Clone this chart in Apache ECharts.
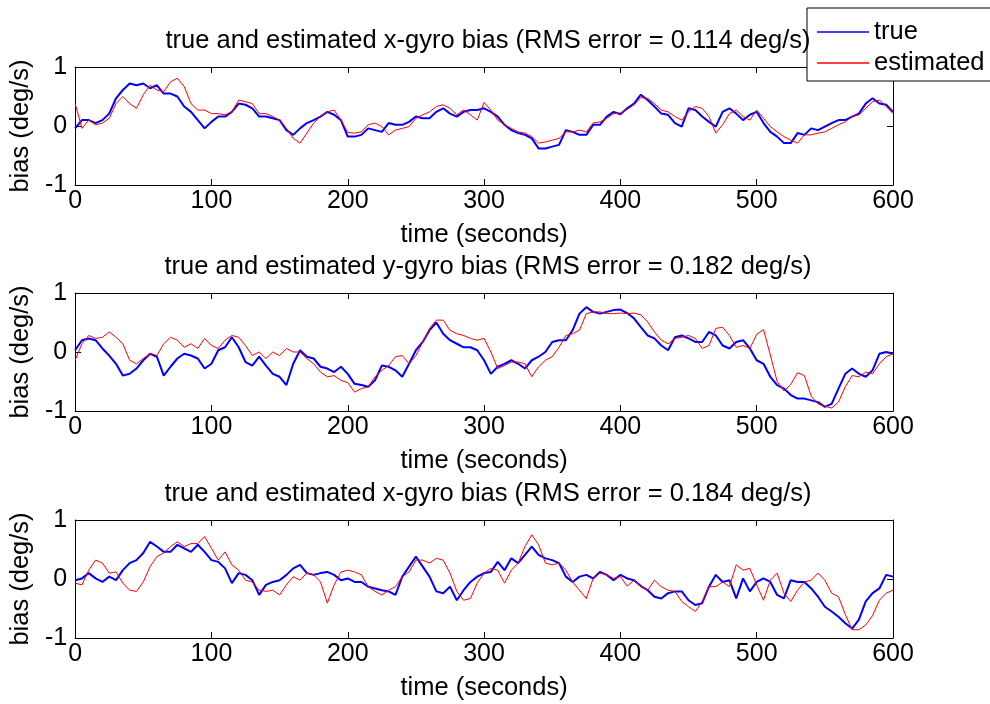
<!DOCTYPE html>
<html>
<head>
<meta charset="utf-8">
<title>gyro bias</title>
<script src="https://cdn.jsdelivr.net/npm/echarts@6/dist/echarts.min.js"></script>
<style>
    html, body { margin: 0; padding: 0; background: #fff; }
    #chart { width: 990px; height: 704px; }
</style>
</head>
<body>
<div id="chart"></div>
<script>
// sample times (seconds), one point every 5 s
var time = [];
for (var s = 0; s <= 600; s += 5) time.push(s);

var xTicks = ['0', '100', '200', '300', '400', '500', '600'];
var yTicks = ['-1', '0', '1'];

var titles = [
    'true and estimated x-gyro bias (RMS error = 0.114 deg/s)',
    'true and estimated y-gyro bias (RMS error = 0.182 deg/s)',
    'true and estimated x-gyro bias (RMS error = 0.184 deg/s)'
];

// x-gyro
var xTrue = [-0.04, 0.1, 0.1, 0.05, 0.1, 0.21, 0.47, 0.61, 0.72, 0.69, 0.72, 0.64, 0.69, 0.55, 0.55, 0.5, 0.33, 0.24, 0.1, -0.04,
    0.07, 0.16, 0.16, 0.24, 0.38, 0.36, 0.3, 0.16, 0.16, 0.13, 0.1, -0.07, -0.15, -0.04, 0.05, 0.1, 0.16, 0.24, 0.19, 0.1,
    -0.18, -0.18, -0.15, -0.04, -0.07, -0.1, 0.05, 0.02, 0.02, 0.07, 0.16, 0.13, 0.13, 0.24, 0.3, 0.21, 0.16, 0.24, 0.27, 0.27,
    0.3, 0.24, 0.16, 0.02, -0.07, -0.12, -0.15, -0.21, -0.38, -0.38, -0.35, -0.32, -0.07, -0.1, -0.15, -0.15, 0.02, 0.02, 0.16, 0.24,
    0.2, 0.3, 0.38, 0.53, 0.44, 0.33, 0.21, 0.19, 0.05, -0.01, 0.3, 0.27, 0.16, 0.07, -0.01, 0.24, 0.3, 0.21, 0.1, 0.19,
    0.24, 0.05, -0.1, -0.18, -0.29, -0.29, -0.12, -0.15, -0.04, -0.07, -0.01, 0.05, 0.1, 0.1, 0.16, 0.21, 0.38, 0.47, 0.38, 0.36,
    0.24];
var xEst = [0.38, -0.04, 0.1, 0.02, 0.05, 0.13, 0.38, 0.5, 0.38, 0.3, 0.53, 0.69, 0.61, 0.58, 0.75, 0.81, 0.67, 0.38, 0.27, 0.27,
    0.21, 0.21, 0.19, 0.24, 0.44, 0.41, 0.38, 0.21, 0.21, 0.16, 0.1, -0.04, -0.21, -0.29, -0.12, 0.05, 0.16, 0.24, 0.27, 0.1,
    -0.11, -0.12, -0.1, 0.02, 0.05, -0.01, -0.15, -0.07, -0.04, -0.01, 0.13, 0.19, 0.24, 0.33, 0.36, 0.3, 0.19, 0.27, 0.19, 0.1,
    0.4, 0.27, 0.1, 0.02, -0.04, -0.1, -0.12, -0.18, -0.29, -0.27, -0.24, -0.21, -0.1, -0.1, -0.07, -0.1, 0.05, 0.07, 0.13, 0.21,
    0.22, 0.28, 0.36, 0.48, 0.47, 0.38, 0.27, 0.24, 0.16, 0.1, 0.24, 0.33, 0.3, 0.16, -0.12, 0.02, 0.21, 0.27, 0.16, 0.1,
    0.27, 0.13, -0.01, -0.1, -0.18, -0.24, -0.29, -0.15, -0.15, -0.12, -0.1, -0.04, 0.02, 0.07, 0.16, 0.19, 0.3, 0.41, 0.44, 0.33,
    0.21];

// y-gyro
var yTrue = [0.03, 0.2, 0.23, 0.2, 0.06, -0.06, -0.2, -0.4, -0.37, -0.28, -0.14, -0.03, -0.08, -0.4, -0.25, -0.11, -0.03, -0.06, -0.11, -0.28,
    -0.2, 0.03, 0.08, 0.25, 0.08, -0.17, -0.23, -0.08, -0.23, -0.37, -0.42, -0.56, -0.2, 0.03, -0.08, -0.11, -0.25, -0.28, -0.34, -0.25,
    -0.37, -0.54, -0.56, -0.59, -0.48, -0.23, -0.25, -0.31, -0.42, -0.2, 0.03, 0.17, 0.37, 0.5, 0.31, 0.2, 0.14, 0.08, 0.08, 0.03,
    -0.14, -0.37, -0.25, -0.2, -0.14, -0.2, -0.28, -0.14, -0.08, 0, 0.17, 0.2, 0.2, 0.37, 0.65, 0.76, 0.68, 0.65, 0.68, 0.71,
    0.72, 0.66, 0.57, 0.42, 0.28, 0.23, 0.11, 0.03, 0.25, 0.28, 0.23, 0.17, 0.17, 0.34, 0.28, 0.11, 0.06, 0.17, 0.2, 0.06,
    -0.14, -0.2, -0.42, -0.56, -0.62, -0.73, -0.79, -0.79, -0.82, -0.85, -0.93, -0.88, -0.62, -0.37, -0.28, -0.37, -0.42, -0.31, -0.03, 0,
    -0.03];
var yEst = [-0.14, 0.14, 0.28, 0.23, 0.25, 0.34, 0.25, 0.14, -0.14, -0.2, -0.11, -0.03, -0.06, 0.14, 0.25, 0.2, 0.08, 0.14, 0.06, 0.23,
    0.11, 0.06, 0.2, 0.28, 0.25, 0.11, -0.06, 0, -0.11, 0, -0.06, 0.06, 0, 0, -0.11, -0.2, -0.34, -0.42, -0.4, -0.48,
    -0.52, -0.68, -0.62, -0.59, -0.42, -0.31, -0.23, -0.08, -0.06, -0.2, -0.06, 0.17, 0.4, 0.54, 0.54, 0.37, 0.31, 0.28, 0.23, 0.2,
    0.23, 0, -0.28, -0.23, -0.17, -0.17, -0.2, -0.42, -0.25, -0.14, -0.08, 0.08, 0.28, 0.31, 0.37, 0.65, 0.68, 0.68, 0.65, 0.65,
    0.66, 0.65, 0.66, 0.63, 0.51, 0.34, 0.2, 0.14, 0.23, 0.25, 0.28, 0.23, 0.06, 0.11, 0.4, 0.42, 0.28, 0.08, 0.11, 0.06,
    0.3, 0.38, -0.05, -0.5, -0.66, -0.55, -0.35, -0.4, -0.75, -0.88, -0.92, -0.95, -0.85, -0.59, -0.4, -0.42, -0.34, -0.37, -0.2, -0.08,
    -0.03];

// third gyro
var zTrue = [-0.02, 0.01, 0.1, 0.01, -0.05, 0.04, -0.02, 0.15, 0.27, 0.32, 0.44, 0.63, 0.55, 0.46, 0.46, 0.58, 0.52, 0.46, 0.58, 0.46,
    0.32, 0.29, 0.18, -0.07, 0.1, 0.07, -0.02, -0.27, -0.1, -0.05, -0.02, 0.07, 0.18, 0.24, 0.1, 0.07, 0.1, 0.12, 0.07, -0.02,
    0.01, -0.05, -0.05, -0.13, -0.16, -0.19, -0.21, -0.27, 0.04, 0.21, 0.38, 0.21, 0.04, -0.21, -0.24, -0.13, -0.36, -0.19, -0.05, 0.04,
    0.1, 0.12, 0.29, 0.15, 0.35, 0.27, 0.41, 0.55, 0.41, 0.35, 0.32, 0.27, 0.04, -0.05, 0.04, 0.07, 0.01, 0.12, 0.07, -0.02,
    0.07, 0.01, -0.02, -0.12, -0.19, -0.3, -0.33, -0.24, -0.21, -0.21, -0.36, -0.44, -0.41, -0.13, 0.07, -0.05, -0.02, -0.33, 0.01, -0.21,
    -0.05, 0.01, -0.05, -0.27, -0.33, -0.02, -0.05, -0.05, -0.16, -0.3, -0.47, -0.55, -0.64, -0.75, -0.84, -0.69, -0.38, -0.24, -0.16, 0.07,
    0.04];
var zEst = [-0.07, -0.1, 0.15, 0.32, 0.27, 0.1, 0.12, -0.07, -0.19, -0.21, -0.05, 0.21, 0.38, 0.44, 0.55, 0.63, 0.55, 0.6, 0.6, 0.72,
    0.52, 0.32, 0.46, 0.24, 0.15, -0.02, -0.05, -0.19, -0.21, -0.19, -0.27, -0.1, 0.04, -0.02, 0.1, 0.07, -0.05, -0.41, -0.1, 0.12,
    0.15, 0.12, 0.07, -0.13, -0.21, -0.27, -0.19, -0.13, 0.04, 0.12, 0.32, 0.32, 0.27, 0.35, 0.32, 0.1, -0.21, -0.36, -0.33, -0.07,
    0.1, 0.18, 0.15, -0.07, 0.15, 0.27, 0.55, 0.75, 0.58, 0.27, 0.24, 0.27, 0.15, -0.05, -0.19, -0.33, 0.01, 0.1, 0.07, 0.01,
    0.04, -0.12, -0.02, -0.13, -0.19, -0.02, -0.13, -0.19, -0.21, -0.38, -0.47, -0.55, -0.38, -0.13, -0.13, -0.05, -0.13, 0.24, 0.15, 0.18,
    -0.1, -0.36, -0.02, 0.1, -0.24, -0.38, -0.19, -0.05, -0.02, 0.1, -0.02, -0.24, -0.3, -0.6, -0.86, -0.86, -0.78, -0.62, -0.36, -0.24,
    -0.19];

var panels = [
    { top: 67, trueData: xTrue, estData: xEst },
    { top: 293, trueData: yTrue, estData: yEst },
    { top: 520, trueData: zTrue, estData: zEst }
];

var font = 'Liberation Sans, Arial, sans-serif';
var ink = '#000';
var textSize = 25.5;

function pairs(vals) {
    return time.map(function (t, i) { return [t, vals[i]]; });
}

var grid = [], xAxis = [], yAxis = [], series = [], title = [];

panels.forEach(function (p, i) {
    grid.push({ left: 73, top: p.top, width: 820, height: 118, show: false });

    title.push({
        text: titles[i],
        left: 483,
        top: p.top - 44,
        textAlign: 'center',
        textStyle: { fontFamily: font, fontSize: textSize, fontWeight: 'normal', color: ink }
    });

    // bottom axis with labels
    xAxis.push({
        type: 'value', gridIndex: i, position: 'bottom',
        min: 0, max: 600, interval: 100,
        name: 'time (seconds)', nameLocation: 'middle', nameGap: 37,
        nameTextStyle: { fontFamily: font, fontSize: textSize, color: ink },
        axisLine: { onZero: false, lineStyle: { color: ink, width: 1 } },
        axisTick: { inside: true, length: 6, lineStyle: { color: ink } },
        axisLabel: {
            fontFamily: font, fontSize: 25, color: ink, margin: 4,
            formatter: function (v) { return xTicks[v / 100]; }
        },
        splitLine: { show: false }
    });
    // top edge of the box
    xAxis.push({
        type: 'value', gridIndex: i, position: 'top',
        min: 0, max: 600, interval: 100,
        axisLine: { onZero: false, lineStyle: { color: ink, width: 1 } },
        axisTick: { inside: true, length: 6, lineStyle: { color: ink } },
        axisLabel: { show: false },
        splitLine: { show: false }
    });

    yAxis.push({
        type: 'value', gridIndex: i, position: 'left',
        min: -1, max: 1, interval: 1,
        name: 'bias (deg/s)', nameLocation: 'middle', nameGap: 36,
        nameTextStyle: { fontFamily: font, fontSize: textSize, color: ink },
        axisLine: { onZero: false, lineStyle: { color: ink, width: 1 } },
        axisTick: { inside: true, length: 6, lineStyle: { color: ink } },
        axisLabel: {
            fontFamily: font, fontSize: 25, color: ink, margin: 8,
            formatter: function (v) { return yTicks[v + 1]; }
        },
        splitLine: { show: false }
    });
    yAxis.push({
        type: 'value', gridIndex: i, position: 'right',
        min: -1, max: 1, interval: 1,
        axisLine: { onZero: false, lineStyle: { color: ink, width: 1 } },
        axisTick: { inside: true, length: 6, lineStyle: { color: ink } },
        axisLabel: { show: false },
        splitLine: { show: false }
    });

    series.push({
        name: 'true', type: 'line',
        xAxisIndex: i * 2, yAxisIndex: i * 2,
        data: pairs(p.trueData),
        symbol: 'none',
        lineStyle: { color: '#0000ff', width: 2 },
        itemStyle: { color: '#0000ff' }
    });
    series.push({
        name: 'estimated', type: 'line',
        xAxisIndex: i * 2, yAxisIndex: i * 2,
        data: pairs(p.estData),
        symbol: 'none',
        lineStyle: { color: '#ff0000', width: 1 },
        itemStyle: { color: '#ff0000' }
    });
});

var chart = echarts.init(document.getElementById('chart'));
chart.setOption({
    animation: false,
    backgroundColor: '#fff',
    title: title,
    legend: {
        data: [
            { name: 'true', icon: 'rect' },
            { name: 'estimated', icon: 'rect' }
        ],
        orient: 'vertical',
        left: 807,
        top: 8,
        padding: [11, 14, 5, 10],
        itemGap: 5,
        itemWidth: 52,
        itemHeight: 1.5,
        backgroundColor: '#fff',
        borderColor: ink,
        borderWidth: 1,
        textStyle: { fontFamily: font, fontSize: textSize, color: ink }
    },
    grid: grid,
    xAxis: xAxis,
    yAxis: yAxis,
    series: series
});
</script>
</body>
</html>
